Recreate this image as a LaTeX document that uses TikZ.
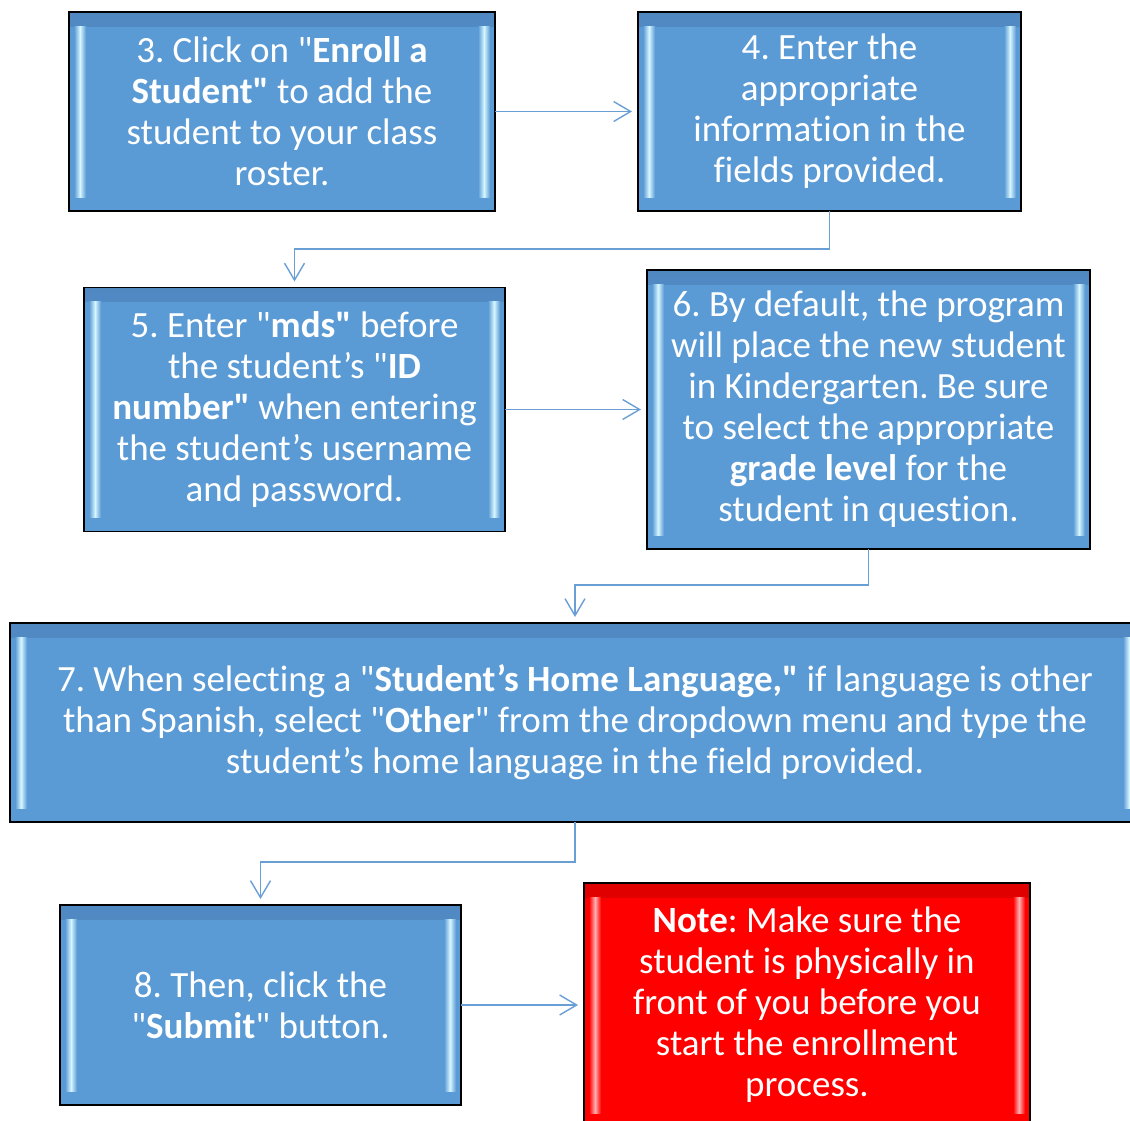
\documentclass[tikz,border=0pt]{standalone}
\usepackage{fontspec}
\setmainfont{Carlito}[Ligatures={TeXOff,NoCommon}]
\usetikzlibrary{arrows.meta}
\frenchspacing

\definecolor{stepblue}{HTML}{5B9BD5}
\definecolor{stepdark}{HTML}{5088C2}
\definecolor{stepglow}{HTML}{D6F6FF}
\definecolor{notered}{HTML}{FF0000}
\definecolor{notedark}{HTML}{E00000}
\definecolor{noteglow}{HTML}{FFB0B0}
\definecolor{linkblue}{HTML}{6A9FD6}

\tikzset{
  bevelbox/.style n args={3}{draw=black, line width=1.8pt, fill=#1, text=white,
    align=center, inner sep=0pt, outer sep=0pt,
    font=\fontsize{37}{41}\selectfont,
    path picture={
      \shade[top color=#2, bottom color=#1]
        (path picture bounding box.north west) rectangle ([yshift=-14pt]path picture bounding box.north east);
      \foreach \side/\dx in {west/5, east/-17} {
        \shade[left color=#1, right color=#1, middle color=#3]
          ([xshift=\dx pt,yshift=-14pt]path picture bounding box.north \side) rectangle
          ([xshift=\dx pt+12pt,yshift=14pt]path picture bounding box.south \side);
      }
    }},
  stepbox/.style={bevelbox={stepblue}{stepdark}{stepglow}},
  notebox/.style={bevelbox={notered}{notedark}{noteglow}},
  link/.style={draw=linkblue, line width=1.4pt, shorten >=6pt,
    -{Straight Barb[length=17pt,width=20pt,line width=1.4pt]}},
}

\begin{document}
\begin{tikzpicture}[x=1pt,y=1pt]

\useasboundingbox (0,0) rectangle (1130,-1120);

\node[stepbox, minimum width=426pt, minimum height=199pt] (s3) at (282,-111.5)
  {3. Click on "\textbf{Enroll a}\\ \textbf{Student"} to add the\\ student to your class\\ roster.};
\node[stepbox, minimum width=383pt, minimum height=199pt] (s4) at (829.5,-111.5)
  {4. Enter the\\ appropriate\\ information in the\\ fields provided.};
\node[stepbox, minimum width=421pt, minimum height=244pt] (s5) at (294.5,-409.5)
  {5. Enter "\textbf{mds"} before\\ the student’s "\textbf{ID}\\ \textbf{number"} when entering\\ the student’s username\\ and password.};
\node[stepbox, minimum width=443pt, minimum height=279pt] (s6) at (868.5,-409.5)
  {6. By default, the program\\ will place the new student\\ in Kindergarten. Be sure\\ to select the appropriate\\ \textbf{grade level} for the\\ student in question.};
\node[stepbox, minimum width=1130pt, minimum height=199pt] (s7) at (575,-722.5)
  {7. When selecting a "\textbf{Student’s Home Language,"} if language is other\\ than Spanish, select "\textbf{Other}" from the dropdown menu and type the\\ student’s home language in the field provided.};
\node[stepbox, minimum width=401pt, minimum height=200pt] (s8) at (260.5,-1005)
  {8. Then, click the\\ "\textbf{Submit}" button.};
\node[notebox, minimum width=446pt, minimum height=244pt] (note) at (807,-1005)
  {\textbf{Note}: Make sure the\\ student is physically in\\ front of you before you\\ start the enrollment\\ process.};

\draw[link] (s3) -- (s4);
\draw[link] (s4.south) -- ++(0,-38) -| (s5.north);
\draw[link] (s5) -- (s6);
\draw[link] (s6.south) -- ++(0,-36) -| (s7.north);
\draw[link] (s7.south) -- ++(0,-40) -| (s8.north);
\draw[link] (s8) -- (note);

\end{tikzpicture}
\end{document}
